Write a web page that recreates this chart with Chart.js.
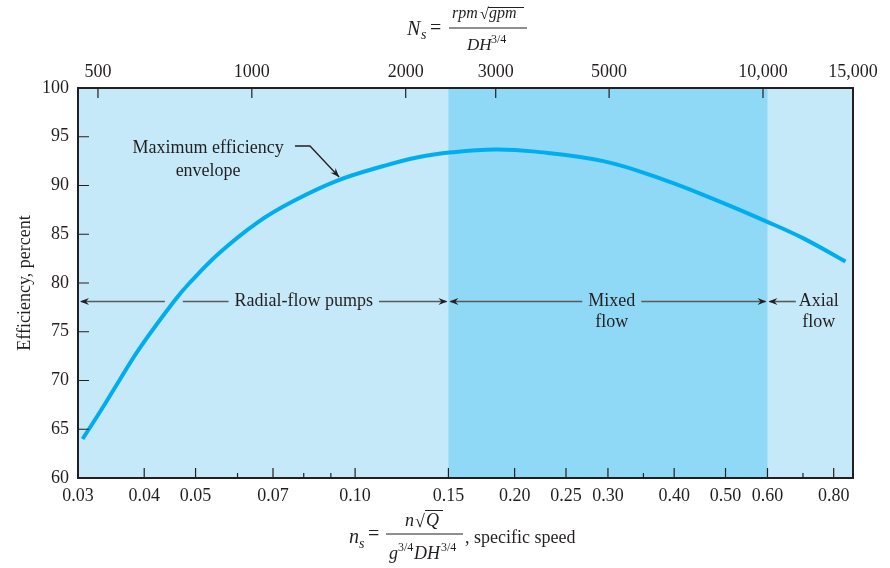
<!DOCTYPE html>
<html>
<head>
<meta charset="utf-8">
<script src="https://cdn.jsdelivr.net/npm/chart.js@4.4.1/dist/chart.umd.min.js"></script>
<style>
  body { margin: 0; background: #fff; }
  canvas { display: block; }
</style>
</head>
<body>
<canvas id="myChart" width="890" height="568"></canvas>
<script>
// specific speed n_s and maximum efficiency (percent)
const specificSpeed = [0.0306, 0.0332, 0.0359, 0.0392, 0.0455, 0.0487, 0.0555, 0.0654, 0.0765, 0.0926, 0.1132, 0.1315, 0.152, 0.1836, 0.2163, 0.294, 0.3817, 0.48, 0.598, 0.70, 0.842];
const efficiency = [64.0, 67.0, 70.0, 73.3, 78.1, 80.0, 83.1, 86.2, 88.4, 90.5, 92.0, 92.9, 93.4, 93.7, 93.5, 92.5, 90.6, 88.5, 86.3, 84.6, 82.2];

// axis ticks
const nsTicks = [0.03, 0.04, 0.05, 0.07, 0.10, 0.15, 0.20, 0.25, 0.30, 0.40, 0.50, 0.60, 0.80];
const nsMinorTicks = [0.06, 0.08, 0.09, 0.35, 0.70];
const NsTicks = [500, 1000, 2000, 3000, 5000, 10000, 15000];
const effTicks = [60, 65, 70, 75, 80, 85, 90, 95, 100];

// pump types and the n_s limits between them
const zoneNames = ["Radial-flow pumps", "Mixed flow", "Axial flow"];
const zoneLimits = [0.15, 0.60];

const SERIF = '"Liberation Serif", "Times New Roman", serif';
const INK = '#231f20';

// shaded background of the plot
const zonesPlugin = {
  id: 'zones',
  beforeDraw(chart) {
    const { ctx, chartArea: a, scales: { x } } = chart;
    ctx.save();
    ctx.fillStyle = '#c6e9f9';
    ctx.fillRect(a.left, a.top, a.width, a.height);
    const x1 = x.getPixelForValue(zoneLimits[0]);
    const x2 = x.getPixelForValue(zoneLimits[1]);
    ctx.fillStyle = '#8fd9f6';
    ctx.fillRect(x1, a.top, x2 - x1, a.height);
    ctx.restore();
  }
};

function arrowHead(ctx, x, y, angle) {
  ctx.save();
  ctx.translate(x, y);
  ctx.rotate(angle);
  ctx.beginPath();
  ctx.moveTo(0, 0);
  ctx.lineTo(-9, -3.5);
  ctx.lineTo(-6, 0);
  ctx.lineTo(-9, 3.5);
  ctx.closePath();
  ctx.fill();
  ctx.restore();
}

function hLine(ctx, xa, xb, y) {
  ctx.beginPath();
  ctx.moveTo(xa, y);
  ctx.lineTo(xb, y);
  ctx.stroke();
}

// frame, inside tick marks, zone arrows and notes
const marksPlugin = {
  id: 'marks',
  afterDatasetsDraw(chart) {
    const { ctx, chartArea: a, scales: { x, x2, y } } = chart;
    ctx.save();

    // tick marks pointing into the plot
    ctx.strokeStyle = INK;
    ctx.lineWidth = 1.2;
    ctx.beginPath();
    nsTicks.forEach(v => { const p = x.getPixelForValue(v); ctx.moveTo(p, a.bottom); ctx.lineTo(p, a.bottom - 10); });
    nsMinorTicks.forEach(v => { const p = x.getPixelForValue(v); ctx.moveTo(p, a.bottom); ctx.lineTo(p, a.bottom - 5); });
    NsTicks.forEach(v => { const p = x2.getPixelForValue(v); ctx.moveTo(p, a.top); ctx.lineTo(p, a.top + 10); });
    effTicks.forEach(v => { const p = y.getPixelForValue(v); ctx.moveTo(a.left, p); ctx.lineTo(a.left + 11, p); });
    ctx.stroke();

    ctx.lineWidth = 2;
    ctx.strokeRect(a.left, a.top, a.width, a.height);

    // zone arrows
    const ay = y.getPixelForValue(78.1);
    const xL = x.getPixelForValue(zoneLimits[0]);
    const xR = x.getPixelForValue(zoneLimits[1]);
    const cross = x.getPixelForValue(0.0455);
    ctx.font = '18px ' + SERIF;
    ctx.fillStyle = INK;
    ctx.strokeStyle = '#5a5a5a';
    ctx.lineWidth = 1.6;
    ctx.textAlign = 'center';
    ctx.textBaseline = 'middle';

    const radX = x.getPixelForValue(0.08);
    const radW = ctx.measureText(zoneNames[0]).width;
    hLine(ctx, a.left + 3, cross - 9, ay);
    hLine(ctx, cross + 9, radX - radW / 2 - 6, ay);
    hLine(ctx, radX + radW / 2 + 6, xL - 2, ay);
    ctx.fillText(zoneNames[0], radX, ay);
    arrowHead(ctx, a.left + 2, ay, Math.PI);
    arrowHead(ctx, xL - 1, ay, 0);

    const mixWords = zoneNames[1].split(' ');
    const mixX = x.getPixelForValue(0.305);
    const mixW = ctx.measureText(mixWords[0]).width;
    hLine(ctx, xL + 2, mixX - mixW / 2 - 6, ay);
    hLine(ctx, mixX + mixW / 2 + 6, xR - 2, ay);
    ctx.fillText(mixWords[0], mixX, ay);
    ctx.fillText(mixWords[1], mixX, ay + 21);
    arrowHead(ctx, xL + 1, ay, Math.PI);
    arrowHead(ctx, xR - 1, ay, 0);

    const axWords = zoneNames[2].split(' ');
    const axX = x.getPixelForValue(0.75);
    const axW = ctx.measureText(axWords[0]).width;
    hLine(ctx, xR + 2, axX - axW / 2 - 3, ay);
    ctx.fillText(axWords[0], axX, ay);
    ctx.fillText(axWords[1], axX, ay + 21);
    arrowHead(ctx, xR + 1, ay, Math.PI);

    // envelope note with leader
    ctx.fillText('Maximum efficiency', x.getPixelForValue(0.0528), y.getPixelForValue(93.85));
    ctx.fillText('envelope', x.getPixelForValue(0.0528), y.getPixelForValue(91.5));
    const p0 = [x.getPixelForValue(0.0770), y.getPixelForValue(94.05)];
    const p1 = [x.getPixelForValue(0.0822), y.getPixelForValue(94.05)];
    const p2 = [x.getPixelForValue(0.0933), y.getPixelForValue(90.87)];
    ctx.strokeStyle = INK;
    ctx.lineWidth = 1.3;
    ctx.beginPath();
    ctx.moveTo(p0[0], p0[1]);
    ctx.lineTo(p1[0], p1[1]);
    ctx.lineTo(p2[0], p2[1]);
    ctx.stroke();
    arrowHead(ctx, p2[0], p2[1], Math.atan2(p2[1] - p1[1], p2[0] - p1[0]));

    ctx.restore();
  },

  // the two specific speed formulas
  afterDraw(chart) {
    const { ctx } = chart;
    ctx.save();
    ctx.fillStyle = INK;
    ctx.strokeStyle = INK;
    ctx.textAlign = 'left';
    ctx.textBaseline = 'alphabetic';
    ctx.lineWidth = 1;

    // top: N_s = rpm sqrt(gpm) / DH^3/4
    ctx.font = 'italic 20px ' + SERIF;
    ctx.fillText('N', 407, 35);
    ctx.font = 'italic 14px ' + SERIF;
    ctx.fillText('s', 421, 39);
    ctx.font = '20px ' + SERIF;
    ctx.fillText('=', 430, 34);
    ctx.font = 'italic 16px ' + SERIF;
    ctx.fillText('rpm', 452, 18);
    ctx.font = '16px ' + SERIF;
    ctx.fillText('\u221A', 480, 19);
    ctx.font = 'italic 16px ' + SERIF;
    ctx.fillText('gpm', 489, 18);
    hLine(ctx, 488, 524, 7.5);
    hLine(ctx, 449, 527, 28);
    ctx.font = 'italic 17px ' + SERIF;
    ctx.fillText('DH', 467, 50);
    ctx.font = '12px ' + SERIF;
    ctx.fillText('3/4', 491, 43);

    // bottom: n_s = n sqrt(Q) / g^3/4 DH^3/4, specific speed
    ctx.font = 'italic 20px ' + SERIF;
    ctx.fillText('n', 349, 543);
    ctx.font = 'italic 14px ' + SERIF;
    ctx.fillText('s', 359, 548);
    ctx.font = '20px ' + SERIF;
    ctx.fillText('=', 368, 540);
    ctx.font = 'italic 18px ' + SERIF;
    ctx.fillText('n', 405, 526);
    ctx.font = '18px ' + SERIF;
    ctx.fillText('\u221A', 415, 527);
    ctx.font = 'italic 18px ' + SERIF;
    ctx.fillText('Q', 426, 526);
    hLine(ctx, 425, 443, 510.5);
    hLine(ctx, 386, 463, 534);
    ctx.font = 'italic 18px ' + SERIF;
    ctx.fillText('g', 389, 559);
    ctx.font = '12px ' + SERIF;
    ctx.fillText('3/4', 398, 551);
    ctx.font = 'italic 18px ' + SERIF;
    ctx.fillText('DH', 414, 559);
    ctx.font = '12px ' + SERIF;
    ctx.fillText('3/4', 441, 551);
    ctx.font = '18px ' + SERIF;
    ctx.fillText(', specific speed', 465, 543);

    ctx.restore();
  }
};

const tickFont = { family: SERIF, size: 18 };

const ctx = document.getElementById("myChart").getContext("2d");

const chart = new Chart(ctx, {
  type: 'line',
  data: {
    datasets: [{
      label: 'Maximum efficiency envelope',
      data: specificSpeed.map((v, i) => ({ x: v, y: efficiency[i] })),
      borderColor: '#00aeef',
      borderWidth: 4,
      pointRadius: 0,
      fill: false,
      tension: 0.4,
      xAxisID: 'x',
      yAxisID: 'y'
    }]
  },
  options: {
    responsive: false,
    animation: false,
    devicePixelRatio: 1,
    layout: { padding: { left: 0, right: 37, top: 0, bottom: 0 } },
    plugins: {
      legend: { display: false },
      tooltip: { enabled: false }
    },
    scales: {
      x: {
        type: 'logarithmic',
        position: 'bottom',
        min: 0.03,
        max: 0.87,
        afterBuildTicks: s => { s.ticks = nsTicks.map(v => ({ value: v })); },
        afterFit: s => { s.height = 90; },
        grid: { display: false, drawTicks: false },
        border: { display: false },
        ticks: {
          autoSkip: false,
          maxRotation: 0,
          padding: 7,
          color: INK,
          font: tickFont,
          callback: v => Number(v).toFixed(2)
        }
      },
      x2: {
        type: 'logarithmic',
        position: 'top',
        min: 457,
        max: 15000,
        afterBuildTicks: s => { s.ticks = NsTicks.map(v => ({ value: v })); },
        afterFit: s => { s.height = 88; },
        grid: { display: false, drawTicks: false },
        border: { display: false },
        ticks: {
          autoSkip: false,
          maxRotation: 0,
          padding: 5,
          color: INK,
          font: tickFont,
          callback: v => v >= 10000 ? Number(v).toLocaleString('en-US') : String(v)
        }
      },
      y: {
        type: 'linear',
        min: 60,
        max: 100,
        afterBuildTicks: s => { s.ticks = effTicks.map(v => ({ value: v })); },
        afterFit: s => { s.width = 78; },
        grid: { display: false, drawTicks: false },
        border: { display: false },
        ticks: { padding: 9, color: INK, font: tickFont },
        title: {
          display: true,
          text: 'Efficiency, percent',
          color: INK,
          font: { family: SERIF, size: 18 },
          padding: { top: 14, bottom: 0 }
        }
      }
    }
  },
  plugins: [zonesPlugin, marksPlugin]
});
</script>
</body>
</html>
